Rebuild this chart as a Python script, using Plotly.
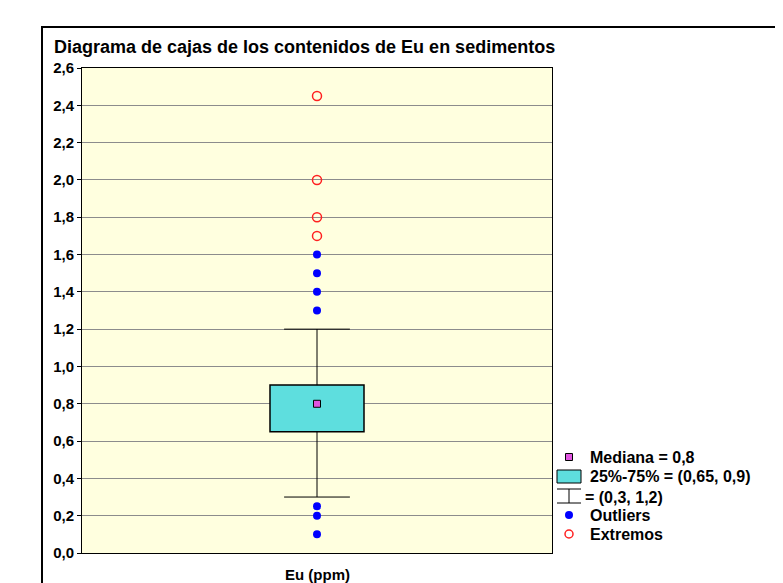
import plotly.graph_objects as go

# ---- data ----
category = ["Eu (ppm)"]
median = [0.8]
q1 = [0.65]
q3 = [0.9]
whisker_low = [0.3]
whisker_high = [1.2]
outliers = [0.1, 0.2, 0.25, 1.3, 1.4, 1.5, 1.6]
extremes = [1.7, 1.8, 2.0, 2.45]
y_ticks = [0.0, 0.2, 0.4, 0.6, 0.8, 1.0, 1.2, 1.4, 1.6, 1.8, 2.0, 2.2, 2.4, 2.6]
title_text = "Diagrama de cajas de los contenidos de Eu en sedimentos"


def fmt(v):
    s = ("%.2f" % v).rstrip("0")
    if s.endswith("."):
        s = s[:-1]
    return s.replace(".", ",")


# the page places the figure 8px in from the top-left corner
OFF = 8
W, H = 783 - OFF, 583 - OFF
PLOT_X0, PLOT_X1, PLOT_Y0, PLOT_Y1 = 82, 552, 68, 553   # page pixels
L = PLOT_X0 - OFF
T = PLOT_Y0 - OFF
R = W - (PLOT_X1 - OFF)
B = H - (PLOT_Y1 - OFF)
PW, PH = PLOT_X1 - PLOT_X0, PLOT_Y1 - PLOT_Y0


def px(x):
    return (x - PLOT_X0) / PW


def py(y):
    return (PLOT_Y1 - y) / PH


CYAN = "#5EDEDE"
MAGENTA = "#E055E0"
BLUE = "#0000FF"
RED = "#FF2020"
FONT = "Liberation Sans, Arial, sans-serif"

xc = 0.0
box_w = 1.0
cap_w = 0.7

fig = go.Figure()

# box (interquartile range)
fig.add_trace(go.Bar(
    x=[xc], y=[q3[0] - q1[0]], base=[q1[0]], width=[box_w],
    marker=dict(color=CYAN, line=dict(color="black", width=1.5)),
    showlegend=False, hoverinfo="skip"))

# whiskers
fig.add_trace(go.Scatter(
    x=[xc, xc, None, xc, xc, None,
       xc - cap_w / 2, xc + cap_w / 2, None, xc - cap_w / 2, xc + cap_w / 2],
    y=[whisker_low[0], q1[0], None, q3[0], whisker_high[0], None,
       whisker_low[0], whisker_low[0], None, whisker_high[0], whisker_high[0]],
    mode="lines", line=dict(color="black", width=1),
    showlegend=False, hoverinfo="skip"))

# median
fig.add_trace(go.Scatter(
    x=[xc], y=median, mode="markers",
    marker=dict(symbol="square", size=7, color=MAGENTA,
                line=dict(color="black", width=1)),
    showlegend=False))

# outliers
fig.add_trace(go.Scatter(
    x=[xc] * len(outliers), y=outliers, mode="markers",
    marker=dict(symbol="circle", size=8, color=BLUE, line=dict(width=0)),
    showlegend=False))

# extremes
fig.add_trace(go.Scatter(
    x=[xc] * len(extremes), y=extremes, mode="markers",
    marker=dict(symbol="circle-open", size=9, color=RED,
                line=dict(color=RED, width=1.5)),
    showlegend=False))

shapes = []
annotations = []

# outer frame
shapes.append(dict(type="rect", xref="paper", yref="paper",
                   x0=px(42), x1=px(800), y0=py(600), y1=py(27),
                   line=dict(color="black", width=2), fillcolor="rgba(0,0,0,0)",
                   layer="below"))

# title
annotations.append(dict(text="<b>%s</b>" % title_text, xref="paper", yref="paper",
                        x=px(52), y=py(47), xanchor="left", yanchor="middle",
                        showarrow=False, font=dict(family=FONT, size=18, color="black")))

# category label
annotations.append(dict(text="<b>%s</b>" % category[0], xref="x", yref="paper",
                        x=xc, y=py(574), xanchor="center", yanchor="middle",
                        showarrow=False, font=dict(family=FONT, size=15, color="black")))

# ---- manual legend ----
lx = 569
shapes.append(dict(type="rect", xref="paper", yref="paper",
                   x0=px(lx - 3.5), x1=px(lx + 3.5), y0=py(460.5), y1=py(453.5),
                   fillcolor=MAGENTA, line=dict(color="black", width=1)))
shapes.append(dict(type="rect", xref="paper", yref="paper",
                   x0=px(557), x1=px(581), y0=py(483), y1=py(470),
                   fillcolor=CYAN, line=dict(color="black", width=1)))
for (a, b, c, d) in [(557, 489, 581, 489), (557, 503, 581, 503), (569, 489, 569, 503)]:
    shapes.append(dict(type="line", xref="paper", yref="paper",
                       x0=px(a), y0=py(b), x1=px(c), y1=py(d),
                       line=dict(color="black", width=1)))
shapes.append(dict(type="circle", xref="paper", yref="paper",
                   x0=px(lx - 4), x1=px(lx + 4), y0=py(519), y1=py(511),
                   fillcolor=BLUE, line=dict(color=BLUE, width=0)))
shapes.append(dict(type="circle", xref="paper", yref="paper",
                   x0=px(lx - 4), x1=px(lx + 4), y0=py(538), y1=py(530),
                   fillcolor="rgba(0,0,0,0)", line=dict(color=RED, width=1.5)))

leg_font = dict(family=FONT, size=16, color="black")
legend_items = [
    (588, 457, "Mediana = %s" % fmt(median[0])),
    (588, 476, "25%%-75%% = (%s, %s)" % (fmt(q1[0]), fmt(q3[0]))),
    (583, 497, "= (%s, %s)" % (fmt(whisker_low[0]), fmt(whisker_high[0]))),
    (588, 515, "Outliers"),
    (588, 534, "Extremos"),
]
for (x, y, t) in legend_items:
    annotations.append(dict(text="<b>%s</b>" % t, xref="paper", yref="paper",
                            x=px(x), y=py(y), xanchor="left", yanchor="middle",
                            showarrow=False, font=leg_font))

fig.update_layout(
    width=W, height=H,
    margin=dict(l=L, r=R, t=T, b=B, pad=0),
    paper_bgcolor="white",
    plot_bgcolor="#FFFFDF",
    showlegend=False,
    shapes=shapes,
    annotations=annotations,
    xaxis=dict(range=[-2.5, 2.5], showgrid=False, zeroline=False,
               showticklabels=False, ticks="",
               showline=True, linecolor="black", linewidth=1, mirror=True),
    yaxis=dict(range=[0, 2.6], tickvals=y_ticks,
               ticktext=["<b>%s</b>" % ("%.1f" % v).replace(".", ",") for v in y_ticks],
               tickfont=dict(family=FONT, size=15, color="black"),
               ticks="outside", ticklen=4, tickcolor="black",
               showgrid=True, gridcolor="#8C8C8C", gridwidth=1, zeroline=False,
               showline=True, linecolor="black", linewidth=1, mirror=True),
)

fig.write_html("out.html")
